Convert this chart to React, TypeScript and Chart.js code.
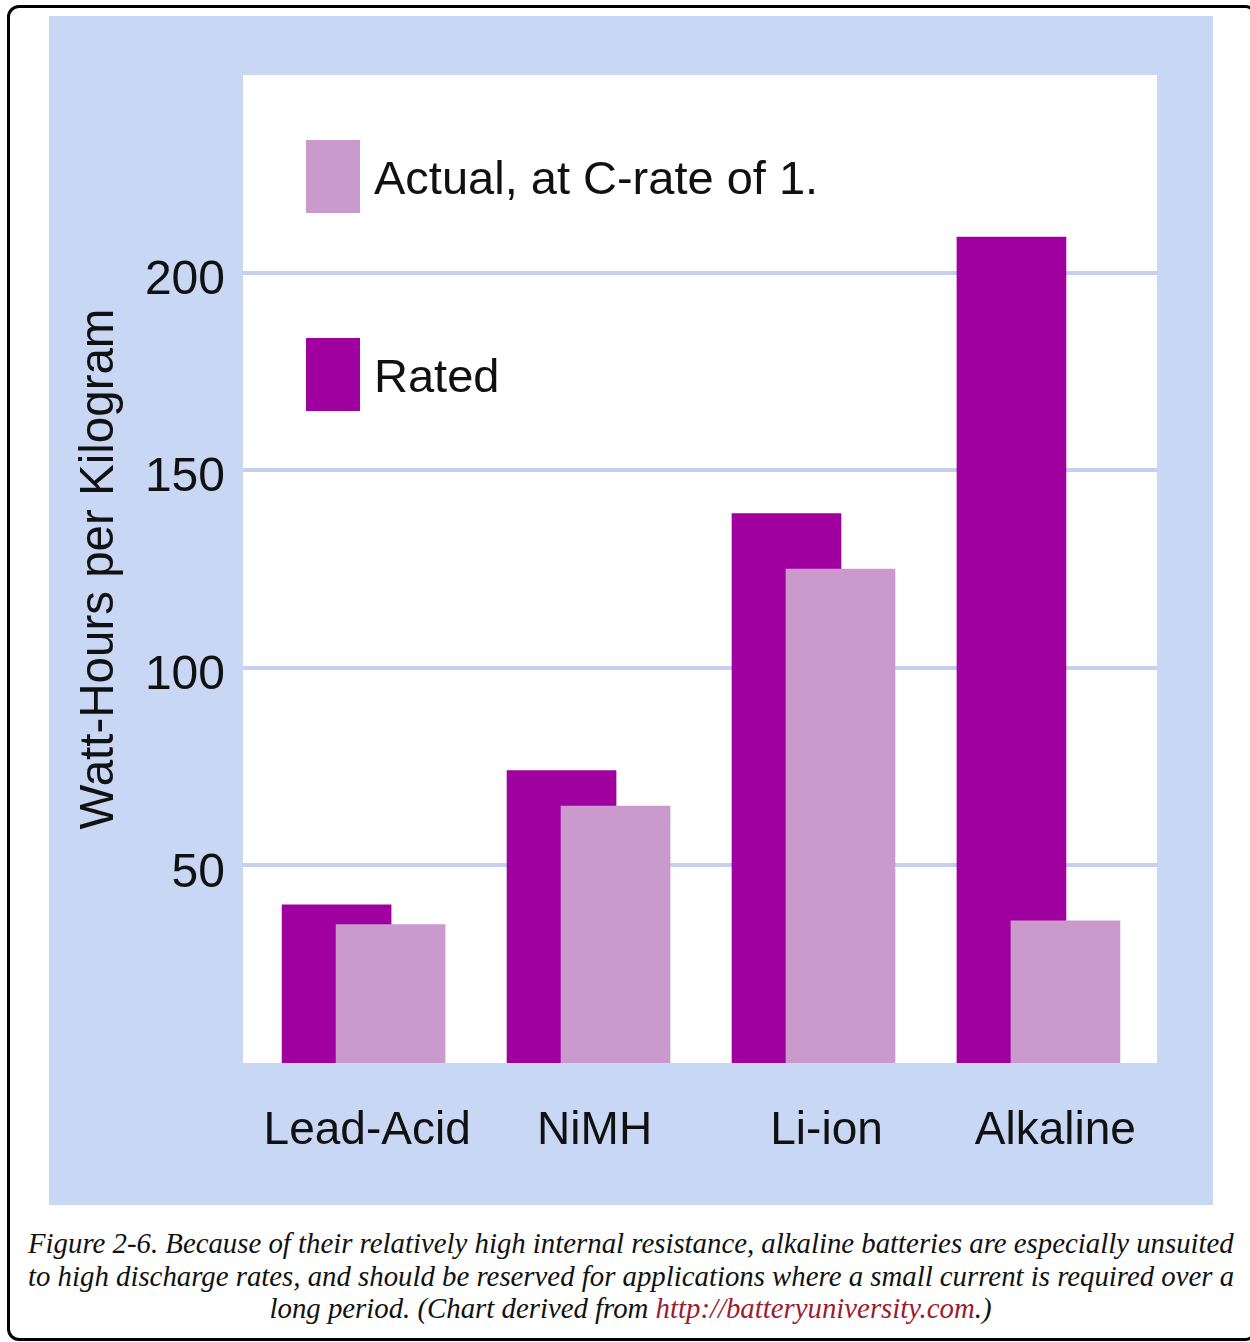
import React, { useEffect, useRef } from 'react';
import { Chart, registerables } from 'chart.js';

Chart.register(...registerables);

// ---- data ----
const categories = ['Lead-Acid', 'NiMH', 'Li-ion', 'Alkaline'];
const ratedValues = [40, 74, 139, 209];
const actualValues = [35, 65, 125, 36];
const yTickValues = [50, 100, 150, 200];
const seriesNames = ['Actual, at C-rate of 1.', 'Rated'];
const axisTitle = 'Watt-Hours per Kilogram';

// ---- styling ----
const BLUE = '#c8d7f3';
const RATED = '#a0009f';
const ACTUAL = '#c99acb';
const GRID = '#c5d1ec';
const TEXT = '#111111';
const FONT = '"Liberation Sans", Arial, sans-serif';
const BAR_SHIFT = 0.12;
const labelNudge = [0.016, 0.027, 0.058, 0.075];

export default function App() {
  const ref = useRef<HTMLCanvasElement>(null);

  useEffect(() => {
    const canvas = ref.current;
    if (!canvas) return;

    const bgPlugin = {
      id: 'bgPlugin',
      beforeDraw(chart: any) {
        const { ctx, chartArea: a, width, height } = chart;
        ctx.save();
        ctx.fillStyle = BLUE;
        ctx.fillRect(0, 0, width, height);
        ctx.fillStyle = '#ffffff';
        ctx.fillRect(a.left, a.top, a.right - a.left, a.bottom - a.top);
        ctx.restore();
      },
    };

    const legendPlugin = {
      id: 'inlineLegend',
      afterDraw(chart: any) {
        const { ctx, chartArea: a } = chart;
        const items = [
          { label: seriesNames[0], color: ACTUAL, top: 65 },
          { label: seriesNames[1], color: RATED, top: 263 },
        ];
        ctx.save();
        ctx.font = `47px ${FONT}`;
        ctx.textBaseline = 'alphabetic';
        ctx.textAlign = 'left';
        for (const it of items) {
          const sx = a.left + 63;
          const sy = a.top + it.top;
          ctx.fillStyle = it.color;
          ctx.fillRect(sx, sy, 54, 73);
          ctx.fillStyle = TEXT;
          ctx.fillText(it.label, a.left + 131, sy + 36.5 + 17);
        }
        ctx.restore();
      },
    };

    const chart = new Chart(canvas, {
      type: 'bar',
      data: {
        datasets: [
          {
            label: seriesNames[0],
            data: actualValues.map((y, i) => ({ x: i + BAR_SHIFT, y })),
            backgroundColor: ACTUAL,
            order: 0,
          },
          {
            label: seriesNames[1],
            data: ratedValues.map((y, i) => ({ x: i - BAR_SHIFT, y })),
            backgroundColor: RATED,
            order: 1,
          },
        ],
      } as any,
      options: {
        animation: false,
        responsive: false,
        layout: { padding: { top: 59, right: 56, left: 0, bottom: 0 } },
        datasets: { bar: { grouped: false, barThickness: 109 } } as any,
        plugins: { legend: { display: false }, tooltip: { enabled: false } },
        scales: {
          x: {
            type: 'linear',
            min: -0.536,
            max: 3.527,
            offset: false,
            grid: { display: false },
            border: { display: false },
            afterBuildTicks: (s: any) => {
              s.ticks = categories.map((_, i) => ({ value: i + labelNudge[i] }));
            },
            afterFit: (s: any) => {
              s.height = 142;
            },
            ticks: {
              padding: 33,
              autoSkip: false,
              maxRotation: 0,
              color: TEXT,
              font: { family: FONT, size: 46 },
              callback: (_v: any, i: number) => categories[i],
            },
          },
          y: {
            min: 0,
            max: 250,
            grid: { color: GRID, lineWidth: 4, drawTicks: false },
            border: { display: false },
            afterFit: (s: any) => {
              s.width = 194;
            },
            ticks: {
              stepSize: 50,
              padding: 18,
              labelOffset: 8,
              color: TEXT,
              font: { family: FONT, size: 48 },
              callback: (v: any) => (yTickValues.includes(Number(v)) ? String(v) : null),
            },
            title: {
              display: true,
              text: axisTitle,
              color: TEXT,
              font: { family: FONT, size: 47.5 },
              padding: { top: 22, bottom: 0 },
            },
          },
        },
      } as any,
      plugins: [bgPlugin, legendPlugin],
    });

    return () => chart.destroy();
  }, []);

  const lineBase: React.CSSProperties = {
    whiteSpace: 'nowrap',
    height: 32.5,
    lineHeight: '32.5px',
  };

  return (
    <div
      style={{
        position: 'absolute',
        left: 0,
        top: 0,
        width: 1250,
        height: 1342,
        overflow: 'hidden',
      }}
    >
      <div
        style={{
          position: 'absolute',
          left: 7,
          top: 5,
          width: 1250,
          height: 1336,
          border: '3px solid #000',
          borderRadius: 12,
          boxSizing: 'border-box',
        }}
      />
      <canvas
        ref={ref}
        width={1164}
        height={1189}
        style={{ position: 'absolute', left: 49, top: 16, width: 1164, height: 1189 }}
      />
      <div
        style={{
          position: 'absolute',
          left: 28,
          top: 1227,
          width: 1205,
          fontFamily: '"Liberation Serif", "Times New Roman", serif',
          fontStyle: 'italic',
          fontSize: 28.8,
          color: '#111',
        }}
      >
        <div style={{ ...lineBase, textAlign: 'justify', textAlignLast: 'justify' }}>
          Figure 2-6. Because of their relatively high internal resistance, alkaline batteries are especially unsuited
        </div>
        <div style={{ ...lineBase, textAlign: 'justify', textAlignLast: 'justify' }}>
          to high discharge rates, and should be reserved for applications where a small current is required over a
        </div>
        <div style={{ ...lineBase, textAlign: 'center' }}>
          long period. (Chart derived from <span style={{ color: '#9b1b30' }}>http://batteryuniversity.com</span>.)
        </div>
      </div>
    </div>
  );
}
